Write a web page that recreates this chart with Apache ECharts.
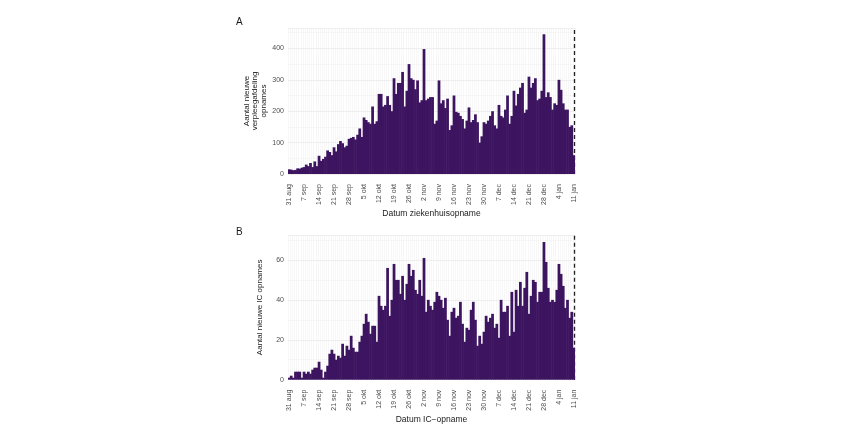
<!DOCTYPE html>
<html>
<head>
<meta charset="utf-8">
<script src="https://cdn.jsdelivr.net/npm/echarts@6/dist/echarts.min.js"></script>
<style>
html,body{margin:0;padding:0;background:#fff;}
#chart{width:850px;height:425px;}
</style>
</head>
<body>
<div id="chart"></div>
<script>
// Tick labels (every 7 days starting at 31 aug)
const tickLabels = ['31 aug','7 sep','14 sep','21 sep','28 sep','5 okt','12 okt','19 okt','26 okt','2 nov','9 nov','16 nov','23 nov','30 nov','7 dec','14 dec','21 dec','28 dec','4 jan','11 jan'];

// Daily categories 31 aug .. 11 jan
const monthNames = ['jan','feb','mrt','apr','mei','jun','jul','aug','sep','okt','nov','dec'];
const categories = [];
{
  const d = new Date(2020, 7, 31);
  const end = new Date(2021, 0, 11);
  while (d <= end) {
    categories.push(d.getDate() + ' ' + monthNames[d.getMonth()]);
    d.setDate(d.getDate() + 1);
  }
}

// Panel A: nieuwe verpleegafdeling opnames
const wardAdmissions = [
  15,14,12,13,18,17,20,
  22,30,25,35,22,40,25,
  58,42,48,55,75,70,60,
  85,72,95,105,98,85,90,
  112,115,118,110,125,145,118,
  180,172,165,160,215,160,168,
  255,255,215,220,248,220,200,
  305,255,290,290,325,215,265,
  350,305,300,270,298,228,235,
  398,235,240,245,245,160,170,
  298,225,235,210,240,140,155,
  250,198,195,185,175,145,170,
  212,165,172,190,165,100,120,
  165,160,170,185,200,155,145,
  220,185,180,205,250,160,185,
  265,218,255,275,290,195,205,
  310,275,290,305,235,240,265,
  445,245,260,245,205,225,220,
  300,268,225,205,205,150,155,
  60
];

// Panel B: nieuwe IC opnames
const icAdmissions = [
  1,2,1,4,4,4,1,
  4,3,4,3,5,6,6,
  9,5,1,4,7,13,15,
  13,10,12,11,18,12,17,
  15,22,16,14,14,19,22,
  28,33,29,23,27,27,19,
  42,37,35,37,56,32,40,
  58,50,50,43,52,40,48,
  58,52,55,45,43,50,42,
  61,34,40,37,35,39,44,
  42,40,36,41,30,22,34,
  36,31,32,39,28,19,26,
  25,35,39,30,17,22,18,
  24,32,29,31,33,26,28,
  21,40,34,34,37,22,44,
  24,45,37,49,37,46,54,
  33,42,50,49,39,44,44,
  69,59,46,39,40,39,45,
  58,53,47,36,40,31,34,
  16
];

const cutoffIndex = 132.5; // dashed line: start of last (incomplete) day

const barColor = '#3d1460';
const font = 'Liberation Sans, Arial, sans-serif';
const tickColor = '#4d4d4d';

function xAxis(gridIndex, name) {
  return {
    type: 'category', gridIndex, data: categories, boundaryGap: true,
    name, nameLocation: 'middle', nameGap: 35,
    nameTextStyle: {fontFamily: font, fontSize: 8.5, color: '#1a1a1a'},
    axisLine: {show: false}, axisTick: {show: false},
    axisLabel: {
      interval: (i) => i % 7 === 0,
      formatter: (v) => tickLabels.includes(v) ? v : '',
      rotate: 90, fontFamily: font, fontSize: 7, color: tickColor, margin: 10
    },
    splitLine: {show: true, interval: 0, lineStyle: {color: '#efefef', width: 0.5}}
  };
}
function yAxis(gridIndex, max, interval, name, nameGap) {
  return {
    type: 'value', gridIndex, min: 0, max, interval,
    name, nameLocation: 'middle', nameGap,
    nameTextStyle: {fontFamily: font, fontSize: 8, color: '#1a1a1a', lineHeight: 8.5},
    axisLine: {show: false}, axisTick: {show: false},
    axisLabel: {fontFamily: font, fontSize: 7, color: tickColor, margin: 4,
      formatter: (v) => (v % interval === 0 ? String(v) : '')},
    splitLine: {show: true, lineStyle: {color: '#e3e3e3', width: 0.6}},
    minorTick: {show: false, splitNumber: 2},
    minorSplitLine: {show: true, lineStyle: {color: '#f0f0f0', width: 0.5}}
  };
}
function barSeries(idx, data) {
  return {
    type: 'bar', xAxisIndex: idx, yAxisIndex: idx, data,
    barWidth: '128%', z: 5,
    itemStyle: {color: barColor},
    silent: true,
    markLine: {
      silent: true, symbol: 'none', label: {show: false},
      lineStyle: {color: '#222', type: [4, 3], width: 1.3},
      data: [{xAxis: cutoffIndex}]
    }
  };
}

const chart = echarts.init(document.getElementById('chart'), null, {renderer: 'canvas'});
chart.setOption({
  backgroundColor: '#ffffff',
  animation: false,
  title: [
    {text: 'A', left: 231, top: 12, textStyle: {fontFamily: font, fontSize: 10, fontWeight: 'normal', color: '#1a1a1a'}},
    {text: 'B', left: 231, top: 222, textStyle: {fontFamily: font, fontSize: 10, fontWeight: 'normal', color: '#1a1a1a'}}
  ],
  grid: [
    {left: 288, right: 275, top: 28, bottom: 251},
    {left: 288, right: 275, top: 235, bottom: 42}
  ],
  xAxis: [xAxis(0, 'Datum ziekenhuisopname'), xAxis(1, 'Datum IC\u2212opname')],
  yAxis: [
    yAxis(0, 465, 100, 'Aantal nieuwe\nverpleegafdeling\nopnames', 20),
    yAxis(1, 72.5, 20, 'Aantal nieuwe IC opnames', 24)
  ],
  series: [barSeries(0, wardAdmissions), barSeries(1, icAdmissions)]
});
</script>
</body>
</html>
